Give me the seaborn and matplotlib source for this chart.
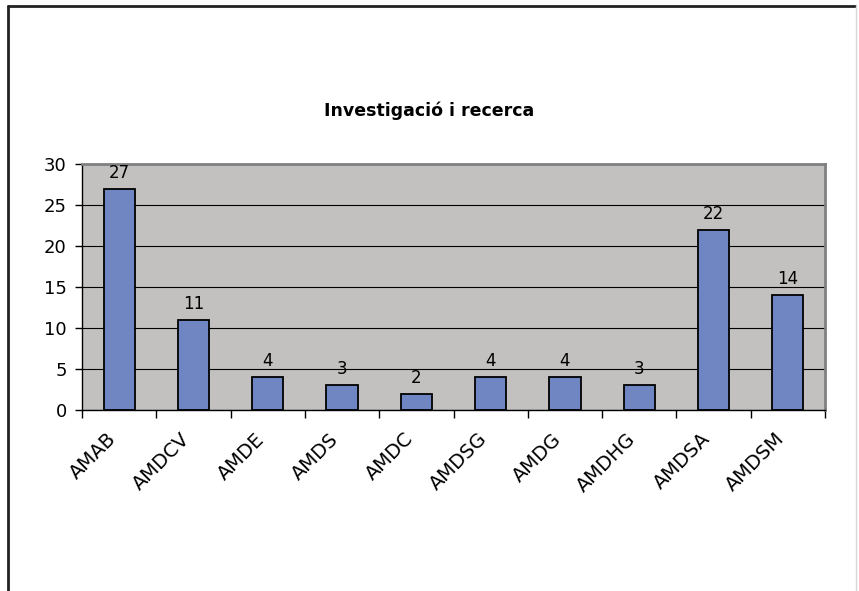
import matplotlib
matplotlib.use("Agg")
import matplotlib.pyplot as plt
import matplotlib.transforms as mtransforms
import seaborn as sns
import numpy as np
import pandas as pd
from matplotlib.lines import Line2D

# data
categories = ["AMAB", "AMDCV", "AMDE", "AMDS", "AMDC", "AMDSG", "AMDG", "AMDHG", "AMDSA", "AMDSM"]
values = [27, 11, 4, 3, 2, 4, 4, 3, 22, 14]
title = "Investigació i recerca"

df = pd.DataFrame({"cat": categories, "val": values})

sns.set_style("white")
plt.rcParams['font.family'] = ['DejaVu Sans']
plt.rcParams['text.color'] = 'black'
plt.rcParams['xtick.color'] = 'black'
plt.rcParams['ytick.color'] = 'black'

fig = plt.figure(figsize=(8.59, 5.91), dpi=100)
ax = fig.add_axes([0.0955, 0.3063, 0.8649, 0.4162])

sns.barplot(data=df, x="cat", y="val", color="#6f86c2", saturation=1,
            width=0.42, edgecolor="black", linewidth=1.3, ax=ax)
ax.bar_label(ax.containers[0], padding=5, fontsize=12)

ax.set_facecolor("#c2c1bf")
ax.set_xlim(-0.5, len(categories) - 0.5)
ax.set_ylim(0, 30)
ax.set_yticks(range(0, 31, 5))
ax.yaxis.grid(True, color="black", linewidth=0.8)
ax.set_axisbelow(True)
ax.set_xlabel("")
ax.set_ylabel("")

for s in ["left", "bottom"]:
    ax.spines[s].set_color("black")
    ax.spines[s].set_linewidth(1)
for s in ["top", "right"]:
    ax.spines[s].set_color("#808080")
    ax.spines[s].set_linewidth(2)

ax.tick_params(axis="y", direction="out", length=5, width=1, labelsize=13, pad=6, left=True)
ax.set_xticks(np.arange(len(categories) + 1) - 0.5, minor=True)
ax.tick_params(axis="x", which="minor", direction="out", length=6, width=1, bottom=True)
ax.tick_params(axis="x", which="major", length=0, labelsize=14, pad=14)
shift = mtransforms.ScaledTranslation(-0.13, 0, fig.dpi_scale_trans)
for lbl in ax.get_xticklabels():
    lbl.set_rotation(45)
    lbl.set_ha("right")
    lbl.set_rotation_mode("anchor")
    lbl.set_transform(lbl.get_transform() + shift)

fig.text(0.50, 0.813, title, ha="center", va="center", fontsize=12.5, fontweight="bold")

# outer chart frame
fig.add_artist(Line2D([0.0093, 0.0093], [0.0, 0.99], color="#222222", linewidth=2))
fig.add_artist(Line2D([0.0093, 0.995], [0.99, 0.99], color="#222222", linewidth=2))
fig.add_artist(Line2D([0.996, 0.996], [0.0, 0.99], color="#d8d8d8", linewidth=1))

fig.savefig("out.png", dpi=100)
